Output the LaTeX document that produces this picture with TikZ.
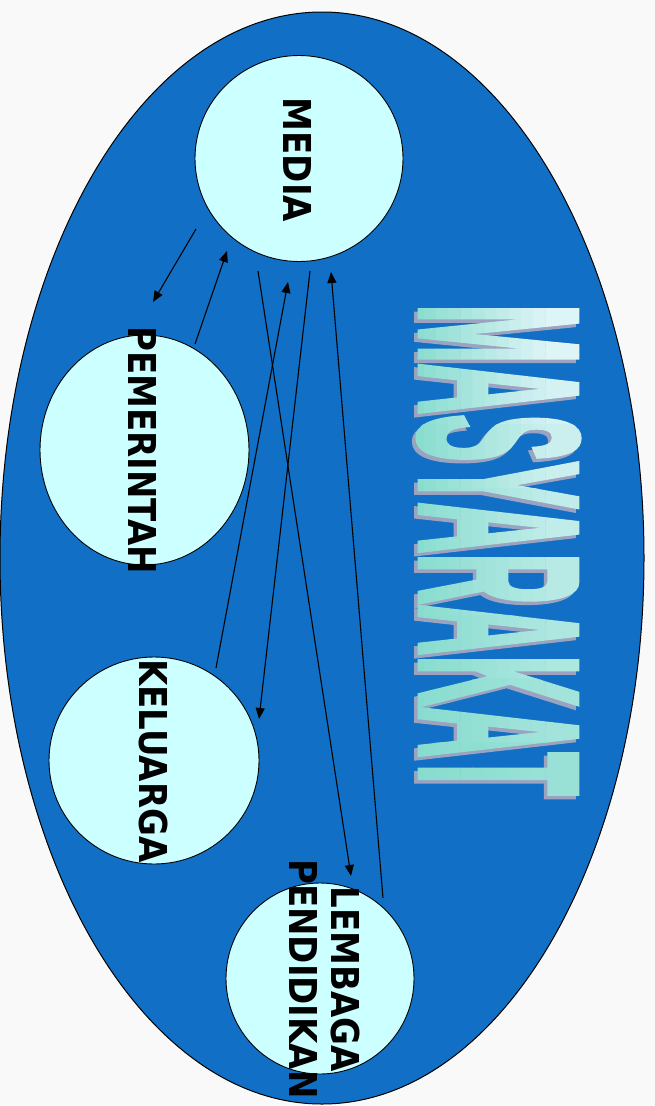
\documentclass[tikz,border=0pt]{standalone}
\usepackage{fontspec}
\usepackage{graphicx}
\usetikzlibrary{shapes.geometric,arrows.meta}
\setmainfont{DejaVu Sans}
\newfontfamily\heavyfont{Liberation Sans}[BoldFeatures={FakeBold=3}]
\definecolor{bgc}{RGB}{249,249,249}
\definecolor{seablue}{RGB}{17,112,197}
\definecolor{circfill}{RGB}{204,255,255}
\definecolor{lightc}{RGB}{228,246,250}
\definecolor{darkc}{RGB}{134,220,206}
\definecolor{shadowc}{RGB}{155,163,192}
\newcommand\masytext{\resizebox{491pt}{157pt}{\heavyfont\bfseries MASYARAKAT}}
\begin{document}
\begin{tikzpicture}[x=1pt,y=-1pt,
  bubble/.style={ellipse,draw=black,line width=0.9pt,fill=circfill,inner sep=0pt},
  lbl/.style={rotate=-90,inner sep=0pt,font=\fontsize{34}{39}\selectfont\bfseries},
  link/.style={draw=black,line width=1.1pt,-{Triangle[length=11pt,width=9pt]}},
  masy/.style={rotate=-90,inner sep=0pt}]
\fill[bgc] (0,0) rectangle (655,1106);
\useasboundingbox (0,0) rectangle (655,1106);
\node[ellipse,draw=black,line width=1pt,fill=seablue,minimum width=644pt,minimum height=1092pt,inner sep=0pt] (society) at (322,558) {};
% word art
\node[masy,text=shadowc] (masyshadow) at (495,553.5) {\masytext};
\foreach \i in {0,...,13}{
  \foreach \j in {0,...,7}{
    \pgfmathsetmacro\xa{411.7+\i*12.143}
    \pgfmathsetmacro\xb{\xa+12.5}
    \pgfmathsetmacro\ya{297.7+\j*63.5}
    \pgfmathsetmacro\yb{\ya+63.9}
    \pgfmathsetmacro\xf{(\i+0.5)/14}
    \pgfmathsetmacro\yf{(\j+0.5)/8}
    \pgfmathtruncatemacro\pc{100*min(1,\xf*1.25)*(1-0.85*\yf)}
    \colorlet{cellc}{lightc!\pc!darkc}
    \begin{scope}
      \clip (\xa,\ya) rectangle (\xb,\yb);
      \node[masy,text=cellc] (mg-\i-\j) at (498.5,550) {\masytext};
    \end{scope}
  }
}
% bubbles
\node[bubble,minimum width=208pt,minimum height=206pt] (media) at (299,158.5) {};
\node[bubble,minimum width=209pt,minimum height=230pt] (pemerintah) at (144.5,450) {};
\node[bubble,minimum width=210pt,minimum height=207pt] (keluarga) at (154,760.5) {};
\node[bubble,minimum width=188pt,minimum height=191pt] (lembaga) at (320,978.5) {};
% connectors
\coordinate (a1s) at (196,229); \coordinate (a1e) at (153,302);
\coordinate (a2s) at (195,344); \coordinate (a2e) at (227,251);
\coordinate (a3s) at (258,271); \coordinate (a3e) at (351,876);
\coordinate (a4s) at (216,668); \coordinate (a4e) at (288,282);
\coordinate (a5s) at (310,271); \coordinate (a5e) at (259,719);
\coordinate (a6s) at (383,898); \coordinate (a6e) at (331,272);
\draw[link] (a1s) -- (a1e);
\draw[link] (a2s) -- (a2e);
\draw[link] (a3s) -- (a3e);
\draw[link] (a4s) -- (a4e);
\draw[link] (a5s) -- (a5e);
\draw[link] (a6s) -- (a6e);
% labels
\node[lbl] (tmedia) at (298,160) {\scalebox{1}[1.13]{MEDIA}};
\node[lbl] (tpemerintah) at (143,450) {\scalebox{1}[1.13]{PEMERINTAH}};
\node[lbl] (tkeluarga) at (153.5,761) {\scalebox{1}[1.13]{KELUARGA}};
\node[lbl] (tlembaga) at (319,979) {\scalebox{1}[1.13]{\begin{tabular}{@{}c@{}}LEMBAGA\\[-2pt]PENDIDIKAN\end{tabular}}};
\end{tikzpicture}
\end{document}
